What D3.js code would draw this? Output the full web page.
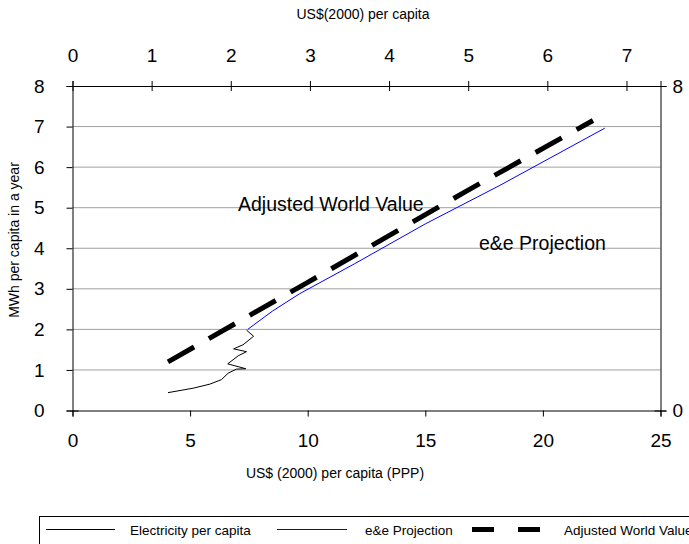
<!DOCTYPE html>
<html>
<head>
<meta charset="utf-8">
<script src="https://cdn.jsdelivr.net/npm/d3@7"></script>
<style>
  body { margin: 0; background: #fff; }
  svg { font-family: "Liberation Sans", Arial, sans-serif; }
</style>
</head>
<body>
<script>
// Electricity per capita (historic), x = US$ (2000) per capita (PPP), y = MWh
const elecX = [4.06, 5.13, 5.84, 6.33, 6.62, 6.97, 7.37, 6.6, 7.05, 7.4, 6.85, 7.25, 7.7, 7.4];
const elecY = [0.44, 0.55, 0.65, 0.76, 0.92, 1.02, 1.03, 1.15, 1.35, 1.45, 1.52, 1.62, 1.83, 1.98];
// e&e Projection
const projX = [7.45, 8.5, 9.66, 12, 15, 18.17, 22.63];
const projY = [2.0, 2.45, 2.88, 3.62, 4.6, 5.55, 6.96];
// Adjusted World Value
const worldX = [4.06, 10, 16.75, 22.13];
const worldY = [1.2, 3.16, 5.41, 7.15];

const bottomTicks = [0, 5, 10, 15, 20, 25];
const topTicks = [0, 1, 2, 3, 4, 5, 6, 7];
const leftTicks = [0, 1, 2, 3, 4, 5, 6, 7, 8];
const rightTicks = [0, 8];
const legendNames = ["Electricity per capita", "e&e Projection", "Adjusted World Value"];

const width = 689, height = 544;
const plotL = 72.5, plotR = 660.5, plotT = 86, plotB = 410.5;

const svg = d3.select('body').append('svg')
    .attr('width', width)
    .attr('height', height);

const x = d3.scaleLinear().domain([0, 25]).range([plotL, plotR]);
const xTop = d3.scaleLinear().domain([0, 7.43]).range([plotL, plotR]);
const y = d3.scaleLinear().domain([0, 8]).range([plotB, plotT]);

// gridlines
svg.append('g')
    .selectAll('line')
    .data(leftTicks.filter(d => d > 0 && d < 8))
    .enter().append('line')
    .attr('x1', plotL).attr('x2', plotR)
    .attr('y1', d => y(d)).attr('y2', d => y(d))
    .attr('stroke', '#a0a0a0')
    .attr('stroke-width', 1);

function styleAxis(g, fs) {
  g.select('.domain').attr('stroke', '#000');
  g.selectAll('.tick line').attr('stroke', '#000');
  g.selectAll('.tick text').attr('font-size', fs).attr('fill', '#000')
      .attr('font-family', '"Liberation Sans", Arial, sans-serif');
}

const tickFont = 19;

// bottom axis
svg.append('g')
    .attr('transform', `translate(0,${plotB})`)
    .call(d3.axisBottom(x).tickValues(bottomTicks).tickSizeOuter(0).tickSize(6).tickPadding(17))
    .call(g => styleAxis(g, tickFont));

// top axis
svg.append('g')
    .attr('transform', `translate(0,${plotT})`)
    .call(d3.axisTop(xTop).tickValues(topTicks).tickSizeOuter(0).tickSize(5).tickPadding(19))
    .call(g => styleAxis(g, tickFont))
    .call(g => g.selectAll('.tick line').attr('y1', 5).attr('y2', -5));

// left axis
svg.append('g')
    .attr('transform', `translate(${plotL},0)`)
    .call(d3.axisLeft(y).tickValues(leftTicks).tickSizeOuter(0).tickSize(6).tickPadding(22))
    .call(g => styleAxis(g, tickFont))
    .call(g => g.selectAll('.tick line').filter(d => d === 0 || d === 8).attr('x2', 6).attr('x1', -6));

// right axis
svg.append('g')
    .attr('transform', `translate(${plotR},0)`)
    .call(d3.axisRight(y).tickValues(rightTicks).tickSizeOuter(0).tickSize(6).tickPadding(6))
    .call(g => styleAxis(g, tickFont))
    .call(g => g.selectAll('.tick line').attr('x1', -6));

// axis titles
svg.append('text')
    .attr('x', 363).attr('y', 19)
    .attr('text-anchor', 'middle')
    .attr('font-size', 14)
    .text('US$(2000) per capita');

svg.append('text')
    .attr('x', 335).attr('y', 478)
    .attr('text-anchor', 'middle')
    .attr('font-size', 14)
    .text('US$ (2000) per capita (PPP)');

svg.append('text')
    .attr('transform', 'translate(19,240) rotate(-90)')
    .attr('text-anchor', 'middle')
    .attr('font-size', 14)
    .text('MWh per capita in a year');

// series
const line = d3.line().x(d => x(d[0])).y(d => y(d[1]));

svg.append('path')
    .datum(d3.zip(worldX, worldY))
    .attr('d', line)
    .attr('fill', 'none')
    .attr('stroke', '#000')
    .attr('stroke-width', 5)
    .attr('stroke-dasharray', '30,17');

svg.append('path')
    .datum(d3.zip(projX, projY))
    .attr('d', line)
    .attr('fill', 'none')
    .attr('stroke', '#0000ff')
    .attr('stroke-width', 1);

svg.append('path')
    .datum(d3.zip(elecX, elecY))
    .attr('d', line)
    .attr('fill', 'none')
    .attr('stroke', '#000')
    .attr('stroke-width', 1);

// annotations
svg.append('text')
    .attr('x', 238).attr('y', 211)
    .attr('font-size', 19.5)
    .text('Adjusted World Value');

svg.append('text')
    .attr('x', 479).attr('y', 250)
    .attr('font-size', 19.5)
    .text('e&e Projection');

// legend
const lg = svg.append('g');
lg.append('rect')
    .attr('x', 39.5).attr('y', 516.5)
    .attr('width', 700).attr('height', 60)
    .attr('fill', '#fff')
    .attr('stroke', '#000');

const legendItems = [
  { name: legendNames[0], x0: 46, x1: 115, tx: 130, color: '#000', w: 1, dash: null },
  { name: legendNames[1], x0: 277, x1: 347, tx: 365, color: '#0000ff', w: 1.2, dash: null },
  { name: legendNames[2], x0: 472, x1: 540, tx: 564, color: '#000', w: 5, dash: '22,24' }
];

const li = lg.selectAll('.item').data(legendItems).enter().append('g').attr('class', 'item');
li.append('line')
    .attr('x1', d => d.x0).attr('x2', d => d.x1)
    .attr('y1', 529.5).attr('y2', 529.5)
    .attr('stroke', d => d.color)
    .attr('stroke-width', d => d.w)
    .attr('stroke-dasharray', d => d.dash);
li.append('text')
    .attr('x', d => d.tx).attr('y', 534.5)
    .attr('font-size', 13.5)
    .text(d => d.name);
</script>
</body>
</html>
